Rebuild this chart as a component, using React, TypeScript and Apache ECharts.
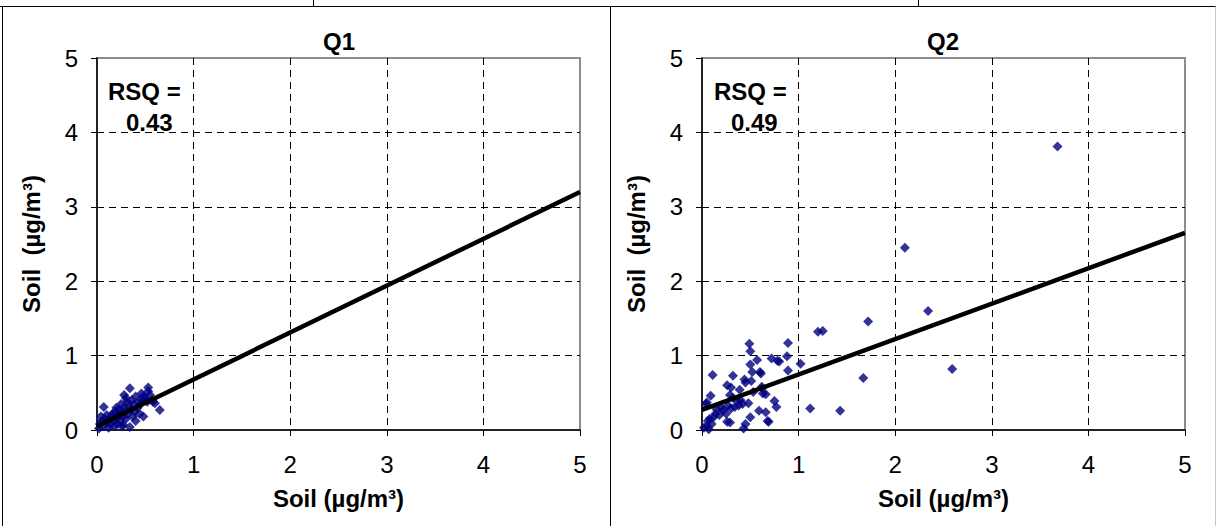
import React, { useEffect, useRef } from "react";
import * as echarts from "echarts";

const xTicks = ["0", "1", "2", "3", "4", "5"];
const titles = ["Q1", "Q2"];
const rsqValues = ["0.43", "0.49"];
const axisName = "Soil (µg/m³)";
const yAxisName = "Soil  (µg/m³)";

const q1Points: number[][] = [
  [0.02, 0.02], [0.03, 0.08], [0.05, 0.12], [0.04, 0.18], [0.07, 0.31], [0.06, 0.05],
  [0.08, 0.15], [0.1, 0.1], [0.1, 0.2], [0.12, 0.03], [0.12, 0.14], [0.14, 0.08],
  [0.15, 0.18], [0.16, 0.22], [0.17, 0.12], [0.18, 0.05], [0.19, 0.25], [0.2, 0.15],
  [0.2, 0.3], [0.21, 0.08], [0.22, 0.2], [0.23, 0.28], [0.24, 0.12], [0.25, 0.35],
  [0.25, 0.22], [0.26, 0.05], [0.27, 0.18], [0.27, 0.07], [0.28, 0.47], [0.28, 0.3],
  [0.29, 0.25], [0.3, 0.43], [0.3, 0.15], [0.31, 0.38], [0.32, 0.22], [0.33, 0.32],
  [0.34, 0.56], [0.34, 0.04], [0.35, 0.28], [0.36, 0.4], [0.37, 0.18], [0.38, 0.34],
  [0.39, 0.25], [0.4, 0.45], [0.4, 0.12], [0.42, 0.3], [0.43, 0.38], [0.44, 0.22],
  [0.45, 0.35], [0.46, 0.49], [0.47, 0.4], [0.48, 0.45], [0.48, 0.18], [0.5, 0.42],
  [0.52, 0.38], [0.53, 0.52], [0.53, 0.57], [0.55, 0.47], [0.57, 0.4], [0.58, 0.38],
  [0.6, 0.36], [0.65, 0.27],
];

const q2Points: number[][] = [
  [3.68, 3.81], [2.1, 2.45], [2.34, 1.6], [1.72, 1.46], [1.2, 1.32], [1.25, 1.33],
  [2.59, 0.82], [1.67, 0.7], [1.43, 0.26], [1.12, 0.29], [0.49, 1.16], [0.5, 1.06],
  [0.89, 1.17], [0.88, 0.99], [0.72, 0.96], [0.78, 0.93], [0.8, 0.92], [1.02, 0.89],
  [0.57, 0.94], [0.5, 0.88], [0.52, 0.78], [0.6, 0.78], [0.61, 0.76], [0.89, 0.8],
  [0.11, 0.74], [0.32, 0.73], [0.44, 0.68], [0.45, 0.64], [0.51, 0.66], [0.26, 0.6],
  [0.3, 0.57], [0.39, 0.54], [0.53, 0.51], [0.62, 0.56], [0.63, 0.49], [0.66, 0.48],
  [0.09, 0.46], [0.29, 0.47], [0.32, 0.43], [0.36, 0.4], [0.05, 0.37], [0.04, 0.35],
  [0.4, 0.4], [0.42, 0.35], [0.38, 0.33], [0.48, 0.36], [0.75, 0.39], [0.77, 0.31],
  [0.2, 0.3], [0.22, 0.27], [0.27, 0.33], [0.3, 0.29], [0.34, 0.31], [0.59, 0.26],
  [0.66, 0.24], [0.14, 0.22], [0.12, 0.17], [0.08, 0.15], [0.06, 0.12], [0.1, 0.08],
  [0.05, 0.05], [0.07, 0.01], [0.5, 0.17], [0.68, 0.12], [0.29, 0.1], [0.45, 0.08],
  [0.43, 0.02], [0.15, 0.28], [0.18, 0.2], [0.25, 0.22], [0.02, 0.03], [0.69, 0.11],
  [0.62, 0.58], [0.26, 0.11],
];

const q1Fit: number[][] = [[0, 0.05], [5, 3.2]];
const q2Fit: number[][] = [[0, 0.27], [5, 2.65]];

const FONT = "'Liberation Sans', Arial, sans-serif";

export default function App() {
  const ref = useRef<HTMLDivElement>(null);
  useEffect(() => {
    if (!ref.current) return;
    const chart = echarts.init(ref.current, null, { renderer: "svg" });
    const grids = [
      { left: 97, top: 58, width: 483, height: 372 },
      { left: 702, top: 58, width: 483, height: 372 },
    ];
    const dash = [7, 5];
    const mkX = (i: number) => ({
      gridIndex: i,
      type: "value",
      min: 0,
      max: 5,
      interval: 1,
      name: axisName,
      nameLocation: "middle",
      nameGap: 56,
      nameTextStyle: { fontFamily: FONT, fontWeight: "bold", fontSize: 24, color: "#000" },
      axisLine: { show: true, onZero: false, lineStyle: { color: "#000", width: 1.5 } },
      axisTick: { show: true, inside: false, length: 6, lineStyle: { color: "#000" } },
      axisLabel: {
        fontFamily: FONT, fontSize: 24, color: "#000", margin: 22,
        formatter: (v: number) => xTicks[Math.round(v)] ?? "",
      },
      splitLine: {
        show: true, showMinLine: false, showMaxLine: false,
        lineStyle: { color: "#000", type: dash, width: 1 },
      },
    });
    const mkY = (i: number) => ({
      gridIndex: i,
      type: "value",
      min: 0,
      max: 5,
      interval: 1,
      name: yAxisName,
      nameLocation: "middle",
      nameGap: 54,
      nameRotate: 90,
      nameTextStyle: { fontFamily: FONT, fontWeight: "bold", fontSize: 24, color: "#000" },
      axisLine: { show: true, onZero: false, lineStyle: { color: "#000", width: 1.5 } },
      axisTick: { show: true, inside: false, length: 6, lineStyle: { color: "#000" } },
      axisLabel: {
        fontFamily: FONT, fontSize: 24, color: "#000", margin: 19,
        formatter: (v: number) => xTicks[Math.round(v)] ?? "",
      },
      splitLine: {
        show: true, showMinLine: false, showMaxLine: false,
        lineStyle: { color: "#000", type: dash, width: 1 },
      },
    });
    const scatter = (i: number, data: number[][]) => ({
      type: "scatter",
      xAxisIndex: i,
      yAxisIndex: i,
      data,
      symbol: "diamond",
      symbolSize: 10,
      itemStyle: { color: "#000080" },
      z: 3,
    });
    const fit = (i: number, data: number[][]) => ({
      type: "line",
      xAxisIndex: i,
      yAxisIndex: i,
      data,
      symbol: "none",
      lineStyle: { color: "#000", width: 4.5 },
      z: 4,
    });
    const txt = (x: number, y: number, text: string, align: string = "left") => ({
      type: "text",
      x,
      y,
      z: 10,
      style: {
        text,
        fontFamily: FONT,
        fontWeight: "bold",
        fontSize: 24,
        fill: "#000",
        textAlign: align,
        textVerticalAlign: "middle",
      },
    });
    const ln = (x1: number, y1: number, x2: number, y2: number, color = "#000") => ({
      type: "line",
      shape: { x1, y1, x2, y2 },
      style: { stroke: color, lineWidth: 1 },
      z: 10,
    });
    chart.setOption({
      animation: false,
      backgroundColor: "#fff",
      grid: grids.map((g) => ({
        ...g,
        show: true,
        borderColor: "#8c8c8c",
        borderWidth: 2,
        backgroundColor: "transparent",
      })),
      xAxis: [mkX(0), mkX(1)],
      yAxis: [mkY(0), mkY(1)],
      series: [scatter(0, q1Points), fit(0, q1Fit), scatter(1, q2Points), fit(1, q2Fit)],
      graphic: [
        ln(0, 6.5, 1216, 6.5),
        ln(313.5, 0, 313.5, 6.5),
        ln(918.5, 0, 918.5, 6.5),
        ln(2.5, 6.5, 2.5, 526),
        ln(610.5, 6.5, 610.5, 526),
        ln(1215.5, 6.5, 1215.5, 526, "#c8c8c8"),
        txt(339, 41, titles[0], "center"),
        txt(943, 41, titles[1], "center"),
        txt(108, 91, "RSQ ="),
        txt(126, 122, rsqValues[0]),
        txt(714, 91, "RSQ ="),
        txt(731, 122, rsqValues[1]),
      ],
    });
    return () => chart.dispose();
  }, []);
  return (
    <div
      ref={ref}
      style={{ position: "absolute", left: 0, top: 0, width: 1216, height: 526, background: "#fff" }}
    />
  );
}
